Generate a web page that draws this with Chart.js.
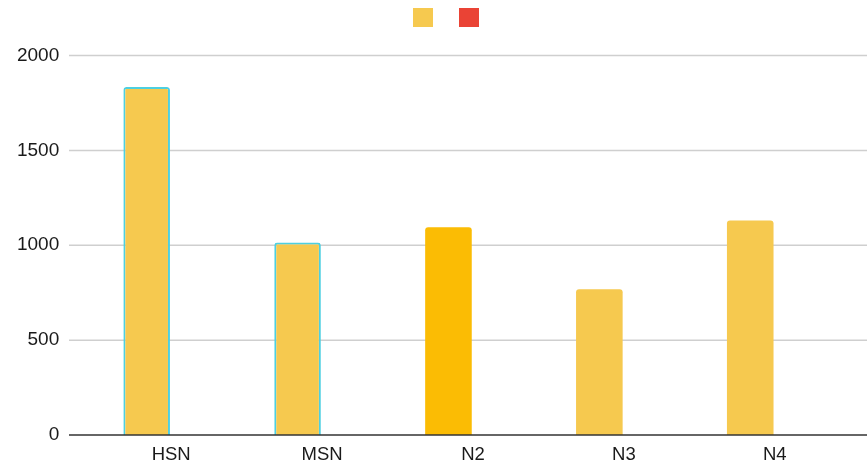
<!DOCTYPE html>
<html>
<head>
<meta charset="utf-8">
<script src="https://cdn.jsdelivr.net/npm/chart.js@4.4.1/dist/chart.umd.min.js"></script>
<style>
  html, body { margin: 0; padding: 0; background: #fff; }
  #wrap { width: 867px; height: 467px; }
</style>
</head>
<body>
<div id="wrap"><canvas id="chart" width="867" height="467"></canvas></div>
<script>
// chart data
const categories = ['HSN', 'MSN', 'N2', 'N3', 'N4'];
const seriesA = [1834, 1015, 1095, 768, 1131];
const seriesB = [null, null, null, null, null];
const yTicks = [0, 500, 1000, 1500, 2000];

const barFill = ['#f6c94f', '#f6c94f', '#fbbc04', '#f6c94f', '#f6c94f'];
const barEdge = ['#4dd0e1', '#4dd0e1', 'rgba(0,0,0,0)', 'rgba(0,0,0,0)', 'rgba(0,0,0,0)'];
const barEdgeWidth = [2, 2, 0, 0, 0];

const labelFont = '"Liberation Sans", Arial, sans-serif';

// grid lines and baseline run wider than the plot area
const gridPlugin = {
  id: 'wideGrid',
  beforeDatasetsDraw(chart) {
    const ctx = chart.ctx;
    const y = chart.scales.y;
    ctx.save();
    ctx.strokeStyle = '#cfcfcf';
    ctx.lineWidth = 1.5;
    yTicks.forEach(v => {
      if (v === 0) return;
      const py = y.getPixelForValue(v);
      ctx.beginPath();
      ctx.moveTo(69, py);
      ctx.lineTo(867, py);
      ctx.stroke();
    });
    ctx.restore();
  },
  afterDatasetsDraw(chart) {
    const ctx = chart.ctx;
    const py = chart.scales.y.getPixelForValue(0);
    ctx.save();
    ctx.strokeStyle = '#333333';
    ctx.lineWidth = 1.5;
    ctx.beginPath();
    ctx.moveTo(69, py);
    ctx.lineTo(867, py);
    ctx.stroke();
    ctx.restore();
  }
};

const ctx = document.getElementById('chart').getContext('2d');
new Chart(ctx, {
  type: 'bar',
  data: {
    labels: categories,
    datasets: [
      {
        label: '',
        data: seriesA,
        backgroundColor: barFill,
        borderColor: barEdge,
        borderWidth: barEdgeWidth,
        borderRadius: { topLeft: 3, topRight: 3 },
        borderSkipped: 'start',
        categoryPercentage: 0.65,
        barPercentage: 0.95
      },
      {
        label: '',
        data: seriesB,
        backgroundColor: '#ea4335',
        categoryPercentage: 0.65,
        barPercentage: 0.95
      }
    ]
  },
  options: {
    responsive: false,
    animation: false,
    layout: { padding: { top: -12, left: 0, right: -31, bottom: 0 } },
    plugins: {
      tooltip: { enabled: false },
      legend: {
        position: 'top',
        labels: {
          boxWidth: 20,
          boxHeight: 19,
          padding: 20,
          font: { size: 12 },
          useBorderRadius: true,
          borderRadius: 3,
          generateLabels(chart) {
            return chart.data.datasets.map((ds, i) => ({
              text: '',
              fillStyle: i === 0 ? '#f6c94f' : ds.backgroundColor,
              strokeStyle: 'rgba(0,0,0,0)',
              lineWidth: 0,
              datasetIndex: i
            }));
          }
        }
      }
    },
    scales: {
      x: {
        grid: { display: false, drawTicks: false },
        border: { display: false },
        ticks: {
          color: '#1a1a1a',
          padding: 9,
          font: { family: labelFont, size: 18.5 }
        },
        afterFit(s) { s.height = 32; }
      },
      // spacer between legend and plot
      xTop: {
        type: 'category',
        position: 'top',
        grid: { display: false },
        border: { display: false },
        ticks: { display: false },
        afterFit(s) { s.height = 18.5; }
      },
      y: {
        min: 0,
        max: 2000,
        grid: { display: false, drawTicks: false },
        border: { display: false },
        afterBuildTicks(s) { s.ticks = yTicks.map(v => ({ value: v })); },
        ticks: {
          color: '#1a1a1a',
          padding: 36.5,
          font: { family: labelFont, size: 19 },
          callback: v => String(v)
        },
        afterFit(s) {
          s.width = 95.75;
          s.paddingTop = 0;
          s.paddingBottom = 0;
        }
      },
      // spacer on the right of the plot
      yRight: {
        type: 'linear',
        position: 'right',
        grid: { display: false },
        border: { display: false },
        ticks: { display: false },
        afterFit(s) { s.width = 47.8; }
      }
    }
  },
  plugins: [gridPlugin]
});
</script>
</body>
</html>
